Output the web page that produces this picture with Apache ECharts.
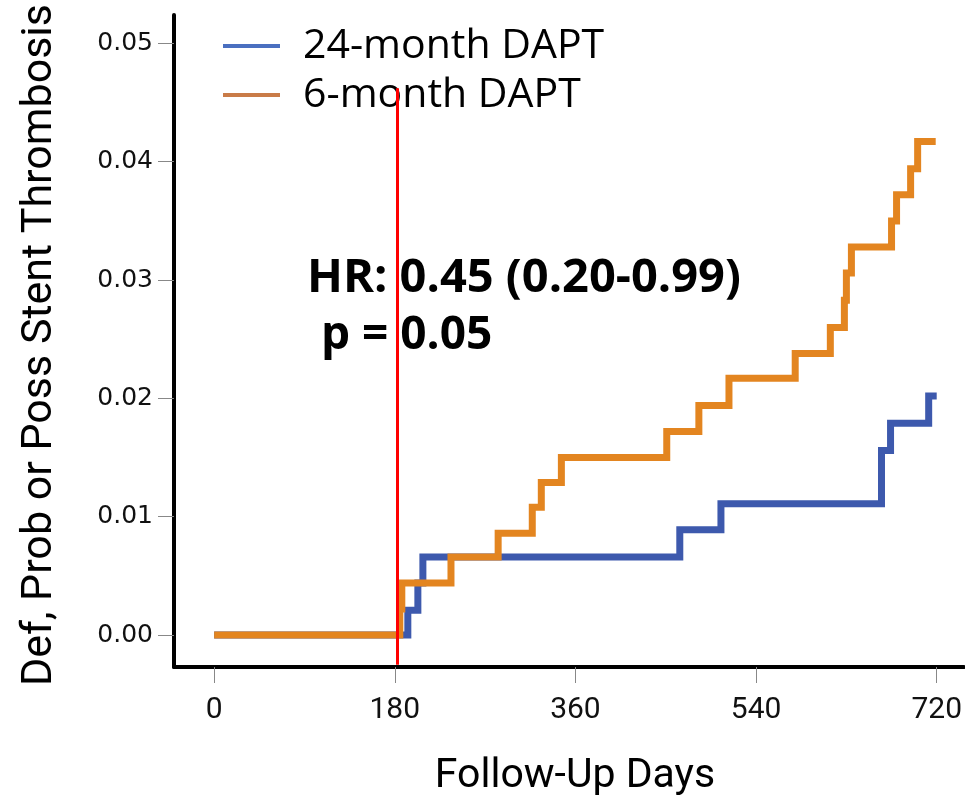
<!DOCTYPE html>
<html>
<head>
<meta charset="utf-8">
<script src="https://cdn.jsdelivr.net/npm/echarts@6/dist/echarts.min.js"></script>
<style>
html,body{margin:0;padding:0;background:#fff;}
#chart{width:965px;height:801px;}
</style>
</head>
<body>
<div id="chart"></div>
<script>
// Data
var seriesNames = ['24-month DAPT', '6-month DAPT'];
var xTicks = [0, 180, 360, 540, 720];
var yTicks = [0, 0.01, 0.02, 0.03, 0.04, 0.05];
// [day, cumulative incidence] at each step
var dapt24 = [[0,0],[193,0.0021],[203,0.0044],[208,0.0066],[464,0.0089],[505,0.0111],[665,0.0156],[674,0.0179],[712,0.0202],[720,0.0202]];
var dapt6 = [[0,0],[185,0.0022],[187,0.0044],[236,0.0066],[283,0.0086],[317,0.0108],[326,0.0129],[346,0.0150],[451,0.0172],[483,0.0194],[513,0.0217],[579,0.0238],[614,0.0260],[628,0.0283],[630,0.0306],[635,0.0328],[675,0.0350],[680,0.0372],[694,0.0394],[701,0.0417],[719,0.0417]];
var landmarkDay = 182;
var annotation1 = 'HR: 0.45 (0.20-0.99)';
var annotation2 = 'p = 0.05';
var xTitle = 'Follow-Up Days';
var yTitle = 'Def, Prob or Poss Stent Thrombosis';

var chart = echarts.init(document.getElementById('chart'));
var option = {
  animation: false,
  backgroundColor: '#ffffff',
  grid: {left: 174, right: 0, top: 15, bottom: 134, containLabel: false},
  legend: {
    orient: 'vertical',
    left: 218, top: 19,
    itemWidth: 57, itemHeight: 4, itemGap: 5,
    icon: 'rect',
    data: [
      {name: seriesNames[0], itemStyle: {color: '#4a6fc0'}},
      {name: seriesNames[1], itemStyle: {color: '#c97b48'}}
    ],
    textStyle: {fontFamily: 'Open Sans', fontSize: 41, color: '#000', lineHeight: 44, padding: [0,0,0,18]}
  },
  xAxis: {
    type: 'value', min: -40, max: 747,
    splitLine: {show: false},
    axisLine: {show: true, onZero: false, lineStyle: {color: '#000', width: 4}},
    axisTick: {show: true, customValues: xTicks, length: 16, lineStyle: {color: '#888', width: 1}},
    axisLabel: {customValues: xTicks, margin: 28, fontFamily: 'Roboto', fontSize: 30, color: '#111'}
  },
  yAxis: {
    type: 'value', min: -0.0027, max: 0.0524,
    splitLine: {show: false},
    axisLine: {show: true, onZero: false, lineStyle: {color: '#000', width: 4}},
    axisTick: {show: true, customValues: yTicks, length: 16, lineStyle: {color: '#888', width: 1}},
    axisLabel: {customValues: yTicks, margin: 21, fontFamily: 'DejaVu Sans', fontSize: 25, color: '#111',
      formatter: function(v){ return v.toFixed(2); }}
  },
  series: [
    {name: seriesNames[0], type: 'line', step: 'end', data: dapt24, showSymbol: false,
     lineStyle: {color: '#3d59ad', width: 7, cap: 'butt', join: 'miter'}, itemStyle: {color: '#3d59ad'}},
    {name: seriesNames[1], type: 'line', step: 'end', data: dapt6, showSymbol: false,
     lineStyle: {color: '#e38520', width: 7, cap: 'butt', join: 'miter'}, itemStyle: {color: '#e38520'},
     markLine: {silent: true, symbol: 'none', label: {show: false},
       lineStyle: {color: '#ff0000', width: 3, type: 'solid'},
       data: [[{coord: [landmarkDay, 0.0462]}, {coord: [landmarkDay, -0.0025]}]]}}
  ],
  graphic: [
    {type: 'text', left: 307, top: 255, z: 100,
     style: {text: annotation1, fontFamily: 'Open Sans', fontWeight: 'bold', fontSize: 47, fill: '#000'}},
    {type: 'text', left: 321, top: 313, z: 100,
     style: {text: annotation2, fontFamily: 'Open Sans', fontWeight: 'bold', fontSize: 46, fill: '#000'}},
    {type: 'text', x: 575, y: 777, z: 100,
     style: {text: xTitle, fontFamily: 'Roboto', fontSize: 41, fill: '#000', align: 'center', verticalAlign: 'middle'}},
    {type: 'text', x: 40, y: 345, rotation: Math.PI/2, z: 100,
     style: {text: yTitle, fontFamily: 'Roboto', fontSize: 43, fill: '#000', align: 'center', verticalAlign: 'middle'}}
  ]
};
chart.setOption(option);
</script>
</body>
</html>
